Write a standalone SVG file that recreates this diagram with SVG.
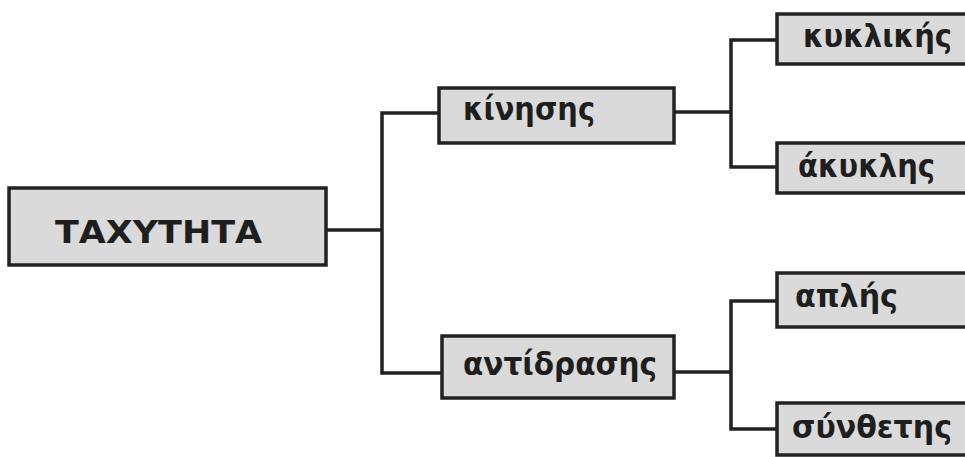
<svg xmlns="http://www.w3.org/2000/svg" width="965" height="457" viewBox="0 0 965 457">
<style>
.box{fill:#dadada;stroke:#222;stroke-width:3.5}
.lbl{font-family:"DejaVu Sans","Liberation Sans",sans-serif;font-weight:bold;font-size:32px;fill:#1e1e1e}
.title{font-family:"DejaVu Sans","Liberation Sans",sans-serif;font-weight:bold;font-size:31px;fill:#1e1e1e}
.conn{fill:none;stroke:#222;stroke-width:3.5;stroke-linejoin:miter}
</style>
<rect width="965" height="457" fill="#ffffff"/>
<g id="connectors">
<path class="conn" d="M326 230 H382 M440 113 H382 V373 H442"/>
<path class="conn" d="M674 112 H731 M777 40 H731 V167 H777"/>
<path class="conn" d="M674 372 H731 M777 301 H731 V429 H777"/>
</g>
<g id="n-taxythta">
<rect class="box" x="9" y="188" width="317" height="77"/>
<text class="title" x="55" y="243" textLength="207" lengthAdjust="spacingAndGlyphs">ΤΑΧΥΤΗΤΑ</text>
</g>
<g id="n-kinisis">
<rect class="box" x="439" y="88" width="235" height="55"/>
<text class="lbl" x="463" y="120" textLength="132" lengthAdjust="spacingAndGlyphs">κίνησης</text>
</g>
<g id="n-antidrasis">
<rect class="box" x="442" y="336" width="232" height="62"/>
<text class="lbl" x="463" y="375" textLength="194" lengthAdjust="spacingAndGlyphs">αντίδρασης</text>
</g>
<g id="n-kyklikis">
<rect class="box" x="777" y="14" width="200" height="50"/>
<text class="lbl" x="803" y="47" font-size="27" textLength="149" lengthAdjust="spacingAndGlyphs">κυκλικής</text>
</g>
<g id="n-akyklis">
<rect class="box" x="777" y="143" width="200" height="50"/>
<text class="lbl" x="798" y="177" textLength="137" lengthAdjust="spacingAndGlyphs">άκυκλης</text>
</g>
<g id="n-aplis">
<rect class="box" x="777" y="273" width="200" height="54"/>
<text class="lbl" x="795" y="307" textLength="103" lengthAdjust="spacingAndGlyphs">απλής</text>
</g>
<g id="n-synthetis">
<rect class="box" x="777" y="403" width="200" height="52"/>
<text class="lbl" x="792" y="438" font-size="30" textLength="160" lengthAdjust="spacingAndGlyphs">σύνθετης</text>
</g>
</svg>
